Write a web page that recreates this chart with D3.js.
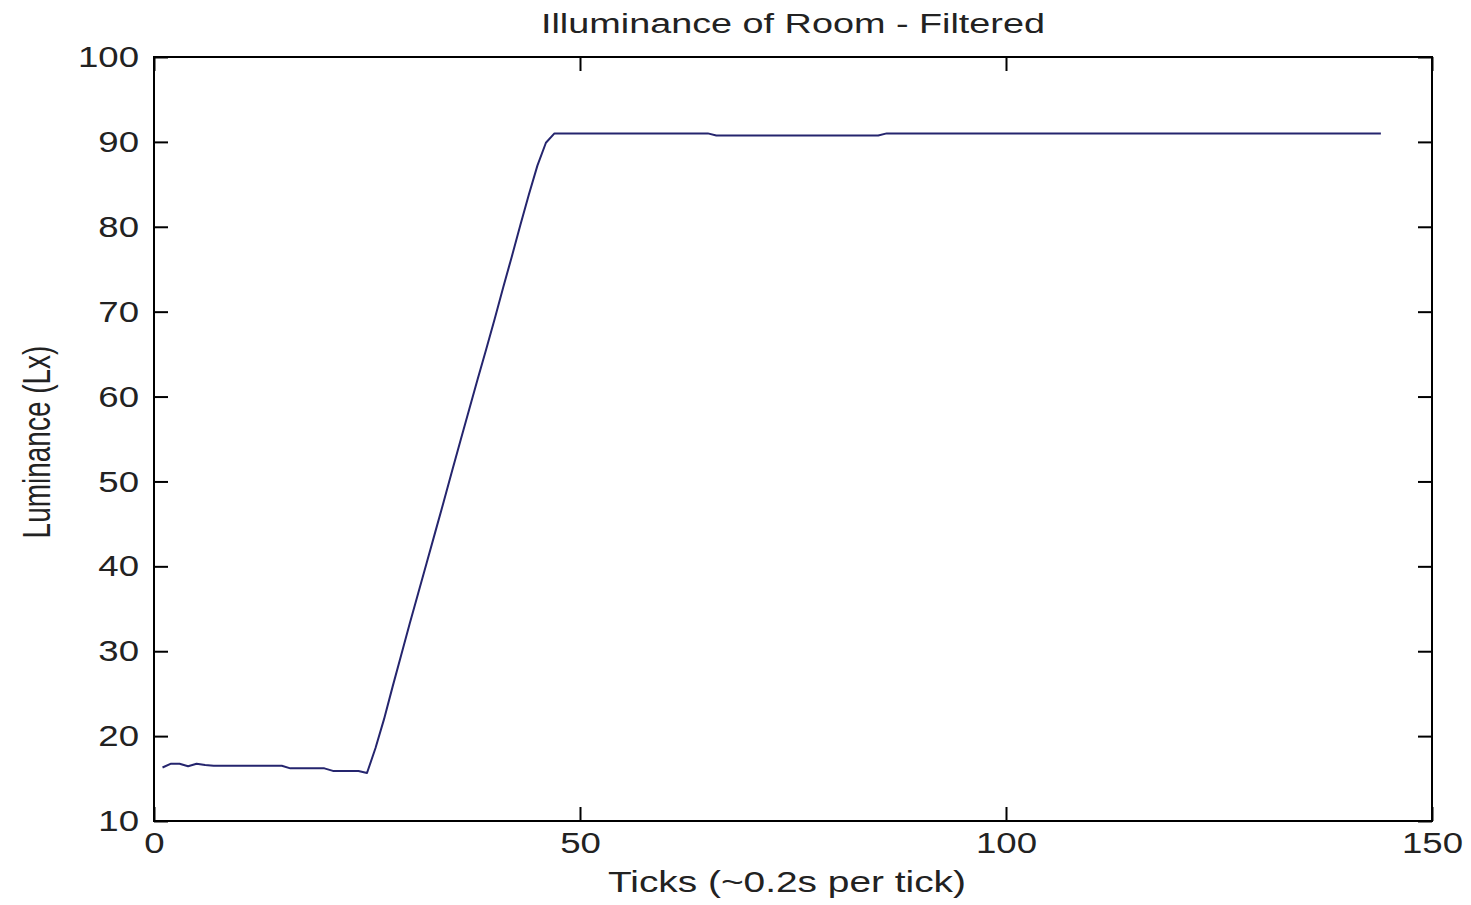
<!DOCTYPE html>
<html>
<head>
<meta charset="utf-8">
<script src="https://cdn.jsdelivr.net/npm/d3@7"></script>
<style>
  html, body { margin: 0; padding: 0; background: #fff; }
  svg { display: block; font-family: "Liberation Sans", Arial, sans-serif; }
  .stretch { transform-box: fill-box; }
</style>
</head>
<body>
<svg id="chart" width="1471" height="905"></svg>
<script>
// ---- Data ----
const chartTitle = "Illuminance of Room - Filtered";
const xAxisLabel = "Ticks (~0.2s per tick)";
const yAxisLabel = "Luminance (Lx)";
const xTickValues = [0, 50, 100, 150];
const yTickValues = [10, 20, 30, 40, 50, 60, 70, 80, 90, 100];
const xDomain = [0, 150];
const yDomain = [10, 100];
// luminance per tick, ticks 1..144
const luminance = [
  16.3, 16.75, 16.75, 16.45, 16.75, 16.6, 16.5, 16.5, 16.5, 16.5,
  16.5, 16.5, 16.5, 16.5, 16.5, 16.2, 16.2, 16.2, 16.2, 16.2,
  15.9, 15.9, 15.9, 15.9, 15.65, 18.6, 22.0, 25.8, 29.5, 33.2,
  36.8, 40.4, 44.0, 47.6, 51.3, 54.9, 58.5, 62.1, 65.6, 69.2,
  72.9, 76.5, 80.2, 83.8, 87.2, 89.9, 91.0, 91.0, 91.0, 91.0,
  91.0, 91.0, 91.0, 91.0, 91.0, 91.0, 91.0, 91.0, 91.0, 91.0,
  91.0, 91.0, 91.0, 91.0, 91.0, 90.75, 90.75, 90.75, 90.75, 90.75,
  90.75, 90.75, 90.75, 90.75, 90.75, 90.75, 90.75, 90.75, 90.75, 90.75,
  90.75, 90.75, 90.75, 90.75, 90.75, 91.0, 91.0, 91.0, 91.0, 91.0,
  91.0, 91.0, 91.0, 91.0, 91.0, 91.0, 91.0, 91.0, 91.0, 91.0,
  91.0, 91.0, 91.0, 91.0, 91.0, 91.0, 91.0, 91.0, 91.0, 91.0,
  91.0, 91.0, 91.0, 91.0, 91.0, 91.0, 91.0, 91.0, 91.0, 91.0,
  91.0, 91.0, 91.0, 91.0, 91.0, 91.0, 91.0, 91.0, 91.0, 91.0,
  91.0, 91.0, 91.0, 91.0, 91.0, 91.0, 91.0, 91.0, 91.0, 91.0,
  91.0, 91.0, 91.0, 91.0
];

// ---- Layout ----
const plot = { left: 154, right: 1432, top: 57, bottom: 821 };
const svg = d3.select("#chart");

const x = d3.scaleLinear().domain(xDomain).range([plot.left, plot.right]);
const y = d3.scaleLinear().domain(yDomain).range([plot.bottom, plot.top]);

const textColor = "#222";
const tickLen = 14;

// Line
const line = d3.line()
  .x((d, i) => x(i + 1))
  .y(d => y(d));

svg.append("path")
  .datum(luminance)
  .attr("d", line)
  .attr("fill", "none")
  .attr("stroke", "#25256e")
  .attr("stroke-width", 2)
  .attr("stroke-linejoin", "round");

// Axes
function styleAxis(g) {
  g.select(".domain").remove();
  g.selectAll(".tick line").attr("stroke", "#000").attr("stroke-width", 2);
  g.selectAll(".tick text")
    .attr("fill", textColor)
    .attr("font-size", 30)
    .attr("font-family", "'Liberation Sans', Arial, sans-serif")
    .classed("stretch", true);
}

const gLeft = svg.append("g")
  .attr("transform", `translate(${plot.left},0)`)
  .call(d3.axisLeft(y).tickValues(yTickValues).tickSize(-tickLen).tickPadding(15).tickFormat(d3.format("d")))
  .call(styleAxis);
gLeft.selectAll(".tick text")
  .style("transform-origin", "100% 50%")
  .style("transform", "scaleX(1.22)");

const gBottom = svg.append("g")
  .attr("transform", `translate(0,${plot.bottom})`)
  .call(d3.axisBottom(x).tickValues(xTickValues).tickSize(-tickLen).tickPadding(11).tickFormat(d3.format("d")))
  .call(styleAxis);
gBottom.selectAll(".tick text")
  .style("transform-origin", "50% 50%")
  .style("transform", "scaleX(1.22)");

svg.append("g")
  .attr("transform", `translate(0,${plot.top})`)
  .call(d3.axisTop(x).tickValues(xTickValues).tickSize(-tickLen).tickFormat(""))
  .call(styleAxis);

svg.append("g")
  .attr("transform", `translate(${plot.right},0)`)
  .call(d3.axisRight(y).tickValues(yTickValues).tickSize(-tickLen).tickFormat(""))
  .call(styleAxis);

// Box
svg.append("rect")
  .attr("x", plot.left)
  .attr("y", plot.top)
  .attr("width", plot.right - plot.left)
  .attr("height", plot.bottom - plot.top)
  .attr("fill", "none")
  .attr("stroke", "#000")
  .attr("stroke-width", 2);

// Title
svg.append("text")
  .attr("x", (plot.left + plot.right) / 2)
  .attr("y", 33)
  .attr("text-anchor", "middle")
  .attr("font-size", 28)
  .attr("fill", textColor)
  .classed("stretch", true)
  .style("transform-origin", "50% 50%")
  .style("transform", "scaleX(1.35)")
  .text(chartTitle);

// X label
svg.append("text")
  .attr("x", 787)
  .attr("y", 892)
  .attr("text-anchor", "middle")
  .attr("font-size", 29)
  .attr("fill", textColor)
  .classed("stretch", true)
  .style("transform-origin", "50% 50%")
  .style("transform", "scaleX(1.34)")
  .text(xAxisLabel);

// Y label
svg.append("text")
  .attr("transform", "translate(50,442) rotate(-90) scale(0.965,1.35)")
  .attr("text-anchor", "middle")
  .attr("font-size", 29)
  .attr("fill", textColor)
  .text(yAxisLabel);
</script>
</body>
</html>
